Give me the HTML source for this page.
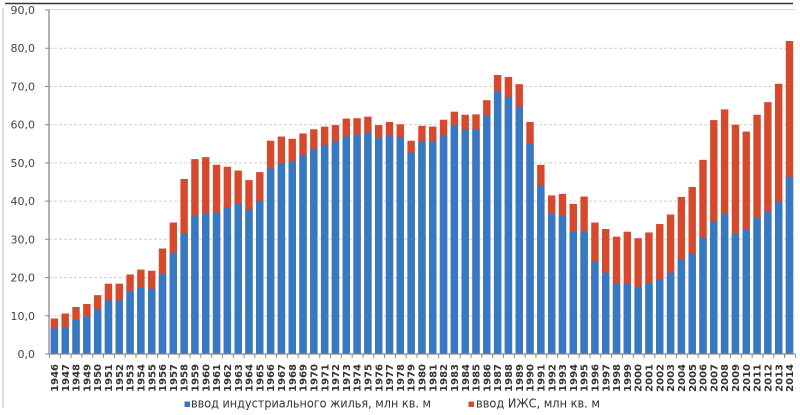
<!DOCTYPE html>
<html><head><meta charset="utf-8"><style>
html,body{margin:0;padding:0;background:#fff;}
svg{display:block;}
text{font-family:"DejaVu Sans","Liberation Sans",sans-serif;}
</style></head><body>
<svg width="800" height="415" viewBox="0 0 800 415" xmlns="http://www.w3.org/2000/svg">
<rect x="0" y="0" width="800" height="415" fill="#fff"/>
<!-- frame -->
<line x1="3" y1="8" x2="3" y2="408" stroke="#c4c4c4" stroke-width="1.2"/>
<!-- gridlines -->
<g stroke="#cfcfcf" stroke-width="1" stroke-dasharray="3 2">
<line x1="49" y1="48.2" x2="795" y2="48.2"/>
<line x1="49" y1="86.5" x2="795" y2="86.5"/>
<line x1="49" y1="124.7" x2="795" y2="124.7"/>
<line x1="49" y1="162.9" x2="795" y2="162.9"/>
<line x1="49" y1="201.1" x2="795" y2="201.1"/>
<line x1="49" y1="239.3" x2="795" y2="239.3"/>
<line x1="49" y1="277.6" x2="795" y2="277.6"/>
<line x1="49" y1="315.8" x2="795" y2="315.8"/>
</g>
<line x1="49" y1="9.5" x2="795" y2="9.5" stroke="#d8d8d8" stroke-width="1"/>
<!-- y ticks -->
<g stroke="#888" stroke-width="1">
<line x1="45" y1="10" x2="49" y2="10"/>
<line x1="45" y1="48.2" x2="49" y2="48.2"/>
<line x1="45" y1="86.5" x2="49" y2="86.5"/>
<line x1="45" y1="124.7" x2="49" y2="124.7"/>
<line x1="45" y1="162.9" x2="49" y2="162.9"/>
<line x1="45" y1="201.1" x2="49" y2="201.1"/>
<line x1="45" y1="239.3" x2="49" y2="239.3"/>
<line x1="45" y1="277.6" x2="49" y2="277.6"/>
<line x1="45" y1="315.8" x2="49" y2="315.8"/>
<line x1="45" y1="354" x2="49" y2="354"/>
</g>
<!-- y labels -->
<g font-size="11" fill="#444" text-anchor="end">
<text x="35" y="14">90,0</text>
<text x="35" y="52.2">80,0</text>
<text x="35" y="90.5">70,0</text>
<text x="35" y="128.7">60,0</text>
<text x="35" y="166.9">50,0</text>
<text x="35" y="205.1">40,0</text>
<text x="35" y="243.3">30,0</text>
<text x="35" y="281.6">20,0</text>
<text x="35" y="319.8">10,0</text>
<text x="35" y="358">0,0</text>
</g>
<!-- bars -->
<g transform="translate(50.7,354) scale(10.81,-3.822)">
<g fill="#d6492c">
<rect x="0" y="0" width="0.685" height="9.3"/>
<rect x="1" y="0" width="0.685" height="10.6"/>
<rect x="2" y="0" width="0.685" height="12.3"/>
<rect x="3" y="0" width="0.685" height="13.1"/>
<rect x="4" y="0" width="0.685" height="15.4"/>
<rect x="5" y="0" width="0.685" height="18.4"/>
<rect x="6" y="0" width="0.685" height="18.4"/>
<rect x="7" y="0" width="0.685" height="20.8"/>
<rect x="8" y="0" width="0.685" height="22.1"/>
<rect x="9" y="0" width="0.685" height="21.8"/>
<rect x="10" y="0" width="0.685" height="27.6"/>
<rect x="11" y="0" width="0.685" height="34.4"/>
<rect x="12" y="0" width="0.685" height="45.8"/>
<rect x="13" y="0" width="0.685" height="51.0"/>
<rect x="14" y="0" width="0.685" height="51.5"/>
<rect x="15" y="0" width="0.685" height="49.5"/>
<rect x="16" y="0" width="0.685" height="49.0"/>
<rect x="17" y="0" width="0.685" height="48.0"/>
<rect x="18" y="0" width="0.685" height="45.5"/>
<rect x="19" y="0" width="0.685" height="47.6"/>
<rect x="20" y="0" width="0.685" height="55.8"/>
<rect x="21" y="0" width="0.685" height="56.9"/>
<rect x="22" y="0" width="0.685" height="56.3"/>
<rect x="23" y="0" width="0.685" height="57.7"/>
<rect x="24" y="0" width="0.685" height="58.8"/>
<rect x="25" y="0" width="0.685" height="59.5"/>
<rect x="26" y="0" width="0.685" height="59.9"/>
<rect x="27" y="0" width="0.685" height="61.6"/>
<rect x="28" y="0" width="0.685" height="61.7"/>
<rect x="29" y="0" width="0.685" height="62.1"/>
<rect x="30" y="0" width="0.685" height="59.9"/>
<rect x="31" y="0" width="0.685" height="60.7"/>
<rect x="32" y="0" width="0.685" height="60.1"/>
<rect x="33" y="0" width="0.685" height="55.8"/>
<rect x="34" y="0" width="0.685" height="59.7"/>
<rect x="35" y="0" width="0.685" height="59.5"/>
<rect x="36" y="0" width="0.685" height="61.3"/>
<rect x="37" y="0" width="0.685" height="63.4"/>
<rect x="38" y="0" width="0.685" height="62.6"/>
<rect x="39" y="0" width="0.685" height="62.7"/>
<rect x="40" y="0" width="0.685" height="66.4"/>
<rect x="41" y="0" width="0.685" height="73.0"/>
<rect x="42" y="0" width="0.685" height="72.5"/>
<rect x="43" y="0" width="0.685" height="70.6"/>
<rect x="44" y="0" width="0.685" height="60.7"/>
<rect x="45" y="0" width="0.685" height="49.5"/>
<rect x="46" y="0" width="0.685" height="41.5"/>
<rect x="47" y="0" width="0.685" height="41.9"/>
<rect x="48" y="0" width="0.685" height="39.3"/>
<rect x="49" y="0" width="0.685" height="41.2"/>
<rect x="50" y="0" width="0.685" height="34.4"/>
<rect x="51" y="0" width="0.685" height="32.7"/>
<rect x="52" y="0" width="0.685" height="30.7"/>
<rect x="53" y="0" width="0.685" height="32.0"/>
<rect x="54" y="0" width="0.685" height="30.3"/>
<rect x="55" y="0" width="0.685" height="31.8"/>
<rect x="56" y="0" width="0.685" height="34.0"/>
<rect x="57" y="0" width="0.685" height="36.5"/>
<rect x="58" y="0" width="0.685" height="41.1"/>
<rect x="59" y="0" width="0.685" height="43.7"/>
<rect x="60" y="0" width="0.685" height="50.8"/>
<rect x="61" y="0" width="0.685" height="61.2"/>
<rect x="62" y="0" width="0.685" height="64.0"/>
<rect x="63" y="0" width="0.685" height="60.0"/>
<rect x="64" y="0" width="0.685" height="58.2"/>
<rect x="65" y="0" width="0.685" height="62.6"/>
<rect x="66" y="0" width="0.685" height="65.9"/>
<rect x="67" y="0" width="0.685" height="70.7"/>
<rect x="68" y="0" width="0.685" height="81.9"/>
</g>
<g fill="#3579c4">
<rect x="0" y="0" width="0.685" height="6.7"/>
<rect x="1" y="0" width="0.685" height="7.1"/>
<rect x="2" y="0" width="0.685" height="8.9"/>
<rect x="3" y="0" width="0.685" height="9.8"/>
<rect x="4" y="0" width="0.685" height="11.8"/>
<rect x="5" y="0" width="0.685" height="14.0"/>
<rect x="6" y="0" width="0.685" height="14.0"/>
<rect x="7" y="0" width="0.685" height="16.4"/>
<rect x="8" y="0" width="0.685" height="17.5"/>
<rect x="9" y="0" width="0.685" height="17.1"/>
<rect x="10" y="0" width="0.685" height="20.9"/>
<rect x="11" y="0" width="0.685" height="26.5"/>
<rect x="12" y="0" width="0.685" height="31.6"/>
<rect x="13" y="0" width="0.685" height="36.3"/>
<rect x="14" y="0" width="0.685" height="36.8"/>
<rect x="15" y="0" width="0.685" height="37.0"/>
<rect x="16" y="0" width="0.685" height="38.3"/>
<rect x="17" y="0" width="0.685" height="39.4"/>
<rect x="18" y="0" width="0.685" height="37.9"/>
<rect x="19" y="0" width="0.685" height="40.1"/>
<rect x="20" y="0" width="0.685" height="48.6"/>
<rect x="21" y="0" width="0.685" height="49.9"/>
<rect x="22" y="0" width="0.685" height="50.3"/>
<rect x="23" y="0" width="0.685" height="52.1"/>
<rect x="24" y="0" width="0.685" height="53.7"/>
<rect x="25" y="0" width="0.685" height="54.7"/>
<rect x="26" y="0" width="0.685" height="55.6"/>
<rect x="27" y="0" width="0.685" height="56.9"/>
<rect x="28" y="0" width="0.685" height="57.4"/>
<rect x="29" y="0" width="0.685" height="58.0"/>
<rect x="30" y="0" width="0.685" height="56.5"/>
<rect x="31" y="0" width="0.685" height="57.2"/>
<rect x="32" y="0" width="0.685" height="56.8"/>
<rect x="33" y="0" width="0.685" height="52.7"/>
<rect x="34" y="0" width="0.685" height="55.6"/>
<rect x="35" y="0" width="0.685" height="55.6"/>
<rect x="36" y="0" width="0.685" height="57.3"/>
<rect x="37" y="0" width="0.685" height="59.8"/>
<rect x="38" y="0" width="0.685" height="58.6"/>
<rect x="39" y="0" width="0.685" height="58.9"/>
<rect x="40" y="0" width="0.685" height="62.4"/>
<rect x="41" y="0" width="0.685" height="68.7"/>
<rect x="42" y="0" width="0.685" height="67.3"/>
<rect x="43" y="0" width="0.685" height="64.7"/>
<rect x="44" y="0" width="0.685" height="55.2"/>
<rect x="45" y="0" width="0.685" height="44.1"/>
<rect x="46" y="0" width="0.685" height="36.6"/>
<rect x="47" y="0" width="0.685" height="36.2"/>
<rect x="48" y="0" width="0.685" height="32.0"/>
<rect x="49" y="0" width="0.685" height="32.0"/>
<rect x="50" y="0" width="0.685" height="24.3"/>
<rect x="51" y="0" width="0.685" height="21.3"/>
<rect x="52" y="0" width="0.685" height="18.6"/>
<rect x="53" y="0" width="0.685" height="18.3"/>
<rect x="54" y="0" width="0.685" height="17.6"/>
<rect x="55" y="0" width="0.685" height="18.5"/>
<rect x="56" y="0" width="0.685" height="19.6"/>
<rect x="57" y="0" width="0.685" height="21.3"/>
<rect x="58" y="0" width="0.685" height="24.9"/>
<rect x="59" y="0" width="0.685" height="26.2"/>
<rect x="60" y="0" width="0.685" height="30.5"/>
<rect x="61" y="0" width="0.685" height="34.8"/>
<rect x="62" y="0" width="0.685" height="36.6"/>
<rect x="63" y="0" width="0.685" height="31.4"/>
<rect x="64" y="0" width="0.685" height="32.6"/>
<rect x="65" y="0" width="0.685" height="35.6"/>
<rect x="66" y="0" width="0.685" height="37.4"/>
<rect x="67" y="0" width="0.685" height="39.9"/>
<rect x="68" y="0" width="0.685" height="46.4"/>
</g>
</g>
<!-- axes -->
<line x1="49" y1="9.5" x2="49" y2="354.5" stroke="#8a8a8a" stroke-width="1.3"/>
<line x1="49" y1="354" x2="795" y2="354" stroke="#8a8a8a" stroke-width="1.3"/>
<line x1="49" y1="356" x2="796" y2="356" stroke="#8a8a8a" stroke-width="4" stroke-dasharray="1 9.81"/>
<!-- top frame line -->
<line x1="5" y1="3.5" x2="793" y2="3.5" stroke="#333" stroke-width="1.6"/>
<!-- x labels -->
<g font-size="10" font-weight="bold" fill="#333" text-anchor="end">
<text transform="translate(54.40,364) rotate(-90)" dy=".36em">1946</text>
<text transform="translate(65.21,364) rotate(-90)" dy=".36em">1947</text>
<text transform="translate(76.02,364) rotate(-90)" dy=".36em">1948</text>
<text transform="translate(86.83,364) rotate(-90)" dy=".36em">1949</text>
<text transform="translate(97.64,364) rotate(-90)" dy=".36em">1950</text>
<text transform="translate(108.45,364) rotate(-90)" dy=".36em">1951</text>
<text transform="translate(119.26,364) rotate(-90)" dy=".36em">1952</text>
<text transform="translate(130.07,364) rotate(-90)" dy=".36em">1953</text>
<text transform="translate(140.88,364) rotate(-90)" dy=".36em">1954</text>
<text transform="translate(151.69,364) rotate(-90)" dy=".36em">1955</text>
<text transform="translate(162.50,364) rotate(-90)" dy=".36em">1956</text>
<text transform="translate(173.31,364) rotate(-90)" dy=".36em">1957</text>
<text transform="translate(184.12,364) rotate(-90)" dy=".36em">1958</text>
<text transform="translate(194.93,364) rotate(-90)" dy=".36em">1959</text>
<text transform="translate(205.74,364) rotate(-90)" dy=".36em">1960</text>
<text transform="translate(216.55,364) rotate(-90)" dy=".36em">1961</text>
<text transform="translate(227.36,364) rotate(-90)" dy=".36em">1962</text>
<text transform="translate(238.17,364) rotate(-90)" dy=".36em">1963</text>
<text transform="translate(248.98,364) rotate(-90)" dy=".36em">1964</text>
<text transform="translate(259.79,364) rotate(-90)" dy=".36em">1965</text>
<text transform="translate(270.60,364) rotate(-90)" dy=".36em">1966</text>
<text transform="translate(281.41,364) rotate(-90)" dy=".36em">1967</text>
<text transform="translate(292.22,364) rotate(-90)" dy=".36em">1968</text>
<text transform="translate(303.03,364) rotate(-90)" dy=".36em">1969</text>
<text transform="translate(313.84,364) rotate(-90)" dy=".36em">1970</text>
<text transform="translate(324.65,364) rotate(-90)" dy=".36em">1971</text>
<text transform="translate(335.46,364) rotate(-90)" dy=".36em">1972</text>
<text transform="translate(346.27,364) rotate(-90)" dy=".36em">1973</text>
<text transform="translate(357.08,364) rotate(-90)" dy=".36em">1974</text>
<text transform="translate(367.89,364) rotate(-90)" dy=".36em">1975</text>
<text transform="translate(378.70,364) rotate(-90)" dy=".36em">1976</text>
<text transform="translate(389.51,364) rotate(-90)" dy=".36em">1977</text>
<text transform="translate(400.32,364) rotate(-90)" dy=".36em">1978</text>
<text transform="translate(411.13,364) rotate(-90)" dy=".36em">1979</text>
<text transform="translate(421.94,364) rotate(-90)" dy=".36em">1980</text>
<text transform="translate(432.75,364) rotate(-90)" dy=".36em">1981</text>
<text transform="translate(443.56,364) rotate(-90)" dy=".36em">1982</text>
<text transform="translate(454.37,364) rotate(-90)" dy=".36em">1983</text>
<text transform="translate(465.18,364) rotate(-90)" dy=".36em">1984</text>
<text transform="translate(475.99,364) rotate(-90)" dy=".36em">1985</text>
<text transform="translate(486.80,364) rotate(-90)" dy=".36em">1986</text>
<text transform="translate(497.61,364) rotate(-90)" dy=".36em">1987</text>
<text transform="translate(508.42,364) rotate(-90)" dy=".36em">1988</text>
<text transform="translate(519.23,364) rotate(-90)" dy=".36em">1989</text>
<text transform="translate(530.04,364) rotate(-90)" dy=".36em">1990</text>
<text transform="translate(540.85,364) rotate(-90)" dy=".36em">1991</text>
<text transform="translate(551.66,364) rotate(-90)" dy=".36em">1992</text>
<text transform="translate(562.47,364) rotate(-90)" dy=".36em">1993</text>
<text transform="translate(573.28,364) rotate(-90)" dy=".36em">1994</text>
<text transform="translate(584.09,364) rotate(-90)" dy=".36em">1995</text>
<text transform="translate(594.90,364) rotate(-90)" dy=".36em">1996</text>
<text transform="translate(605.71,364) rotate(-90)" dy=".36em">1997</text>
<text transform="translate(616.52,364) rotate(-90)" dy=".36em">1998</text>
<text transform="translate(627.33,364) rotate(-90)" dy=".36em">1999</text>
<text transform="translate(638.14,364) rotate(-90)" dy=".36em">2000</text>
<text transform="translate(648.95,364) rotate(-90)" dy=".36em">2001</text>
<text transform="translate(659.76,364) rotate(-90)" dy=".36em">2002</text>
<text transform="translate(670.57,364) rotate(-90)" dy=".36em">2003</text>
<text transform="translate(681.38,364) rotate(-90)" dy=".36em">2004</text>
<text transform="translate(692.19,364) rotate(-90)" dy=".36em">2005</text>
<text transform="translate(703.00,364) rotate(-90)" dy=".36em">2006</text>
<text transform="translate(713.81,364) rotate(-90)" dy=".36em">2007</text>
<text transform="translate(724.62,364) rotate(-90)" dy=".36em">2008</text>
<text transform="translate(735.43,364) rotate(-90)" dy=".36em">2009</text>
<text transform="translate(746.24,364) rotate(-90)" dy=".36em">2010</text>
<text transform="translate(757.05,364) rotate(-90)" dy=".36em">2011</text>
<text transform="translate(767.86,364) rotate(-90)" dy=".36em">2012</text>
<text transform="translate(778.67,364) rotate(-90)" dy=".36em">2013</text>
<text transform="translate(789.48,364) rotate(-90)" dy=".36em">2014</text>
</g>
<!-- legend -->
<rect x="184.5" y="401.5" width="5.5" height="5.5" fill="#3579c4"/>
<text x="191" y="407.5" font-size="12" fill="#333" textLength="240" lengthAdjust="spacingAndGlyphs">ввод индустриального жилья, млн кв. м</text>
<rect x="468.5" y="401.5" width="5.5" height="5.5" fill="#d6492c"/>
<text x="476" y="407.5" font-size="12" fill="#333" textLength="124" lengthAdjust="spacingAndGlyphs">ввод ИЖС, млн кв. м</text>
</svg>
</body></html>
